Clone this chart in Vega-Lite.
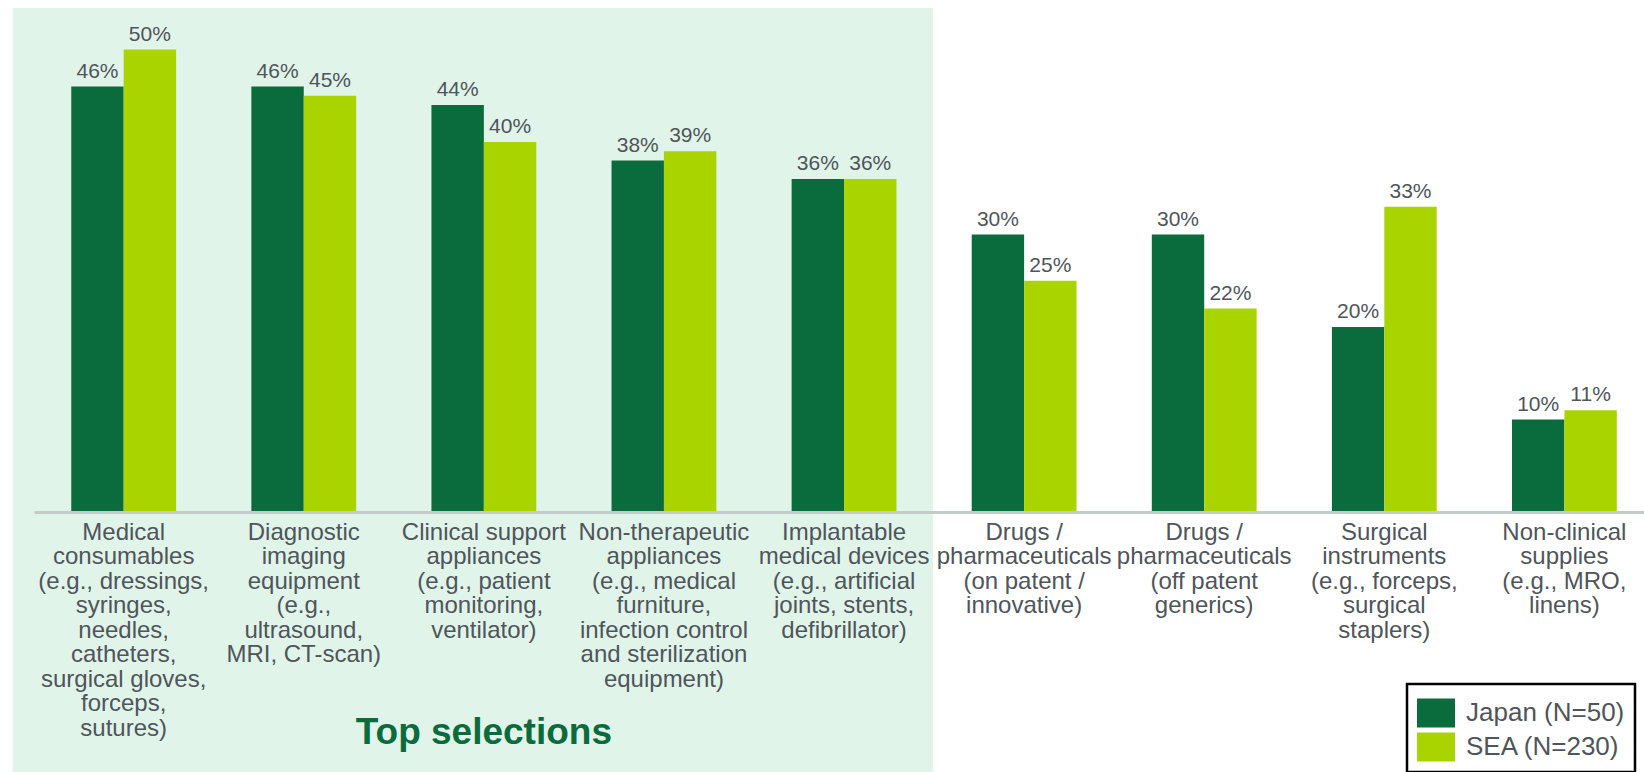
{
  "$schema": "https://vega.github.io/schema/vega-lite/v6.json",
  "width": 1610,
  "height": 504,
  "autosize": {"type": "none"},
  "padding": {"left": 34, "top": 8, "right": 0, "bottom": 260},
  "background": "white",
  "config": {
    "view": {"stroke": null},
    "font": "Liberation Sans",
    "text": {"font": "Liberation Sans"},
    "legend": {"strokeColor": "#000000", "strokeWidth": 2.5, "fillColor": "#ffffff"}
  },
  "datasets": {
    "bars": [
      {"category": "Medical|consumables|(e.g., dressings,|syringes,|needles,|catheters,|surgical gloves,|forceps,|sutures)", "series": "Japan (N=50)", "share": 0.46},
      {"category": "Medical|consumables|(e.g., dressings,|syringes,|needles,|catheters,|surgical gloves,|forceps,|sutures)", "series": "SEA (N=230)", "share": 0.50},
      {"category": "Diagnostic|imaging|equipment|(e.g.,|ultrasound,|MRI, CT-scan)", "series": "Japan (N=50)", "share": 0.46},
      {"category": "Diagnostic|imaging|equipment|(e.g.,|ultrasound,|MRI, CT-scan)", "series": "SEA (N=230)", "share": 0.45},
      {"category": "Clinical support|appliances|(e.g., patient|monitoring,|ventilator)", "series": "Japan (N=50)", "share": 0.44},
      {"category": "Clinical support|appliances|(e.g., patient|monitoring,|ventilator)", "series": "SEA (N=230)", "share": 0.40},
      {"category": "Non-therapeutic|appliances|(e.g., medical|furniture,|infection control|and sterilization|equipment)", "series": "Japan (N=50)", "share": 0.38},
      {"category": "Non-therapeutic|appliances|(e.g., medical|furniture,|infection control|and sterilization|equipment)", "series": "SEA (N=230)", "share": 0.39},
      {"category": "Implantable|medical devices|(e.g., artificial|joints, stents,|defibrillator)", "series": "Japan (N=50)", "share": 0.36},
      {"category": "Implantable|medical devices|(e.g., artificial|joints, stents,|defibrillator)", "series": "SEA (N=230)", "share": 0.36},
      {"category": "Drugs /|pharmaceuticals|(on patent /|innovative)", "series": "Japan (N=50)", "share": 0.30},
      {"category": "Drugs /|pharmaceuticals|(on patent /|innovative)", "series": "SEA (N=230)", "share": 0.25},
      {"category": "Drugs /|pharmaceuticals|(off patent|generics)", "series": "Japan (N=50)", "share": 0.30},
      {"category": "Drugs /|pharmaceuticals|(off patent|generics)", "series": "SEA (N=230)", "share": 0.22},
      {"category": "Surgical|instruments|(e.g., forceps,|surgical|staplers)", "series": "Japan (N=50)", "share": 0.20},
      {"category": "Surgical|instruments|(e.g., forceps,|surgical|staplers)", "series": "SEA (N=230)", "share": 0.33},
      {"category": "Non-clinical|supplies|(e.g., MRO,|linens)", "series": "Japan (N=50)", "share": 0.10},
      {"category": "Non-clinical|supplies|(e.g., MRO,|linens)", "series": "SEA (N=230)", "share": 0.11}
    ],
    "regions": [
      {"label": "Top selections", "from": "Medical|consumables|(e.g., dressings,|syringes,|needles,|catheters,|surgical gloves,|forceps,|sutures)", "to": "Implantable|medical devices|(e.g., artificial|joints, stents,|defibrillator)", "mid": "Clinical support|appliances|(e.g., patient|monitoring,|ventilator)"}
    ]
  },
  "layer": [
    {
      "data": {"name": "regions"},
      "mark": {"type": "rect", "color": "#e0f4e9", "clip": false},
      "encoding": {
        "x": {
          "field": "from", "type": "nominal", "bandPosition": -0.56,
          "scale": {
            "domain": [
              "Medical|consumables|(e.g., dressings,|syringes,|needles,|catheters,|surgical gloves,|forceps,|sutures)",
              "Diagnostic|imaging|equipment|(e.g.,|ultrasound,|MRI, CT-scan)",
              "Clinical support|appliances|(e.g., patient|monitoring,|ventilator)",
              "Non-therapeutic|appliances|(e.g., medical|furniture,|infection control|and sterilization|equipment)",
              "Implantable|medical devices|(e.g., artificial|joints, stents,|defibrillator)",
              "Drugs /|pharmaceuticals|(on patent /|innovative)",
              "Drugs /|pharmaceuticals|(off patent|generics)",
              "Surgical|instruments|(e.g., forceps,|surgical|staplers)",
              "Non-clinical|supplies|(e.g., MRO,|linens)"
            ],
            "paddingInner": 0.418, "paddingOuter": 0.179, "align": 0.578
          }
        },
        "x2": {"field": "to", "bandPosition": 1.348},
        "y": {"datum": 0.545, "type": "quantitative", "scale": {"domain": [0, 0.545], "nice": false, "zero": false}, "axis": null},
        "y2": {"datum": -0.3}
      }
    },
    {
      "data": {"name": "bars"},
      "layer": [
        {
          "mark": {"type": "bar"},
          "encoding": {
            "color": {
              "field": "series", "type": "nominal",
              "scale": {"domain": ["Japan (N=50)", "SEA (N=230)"], "range": ["#0a6b3c", "#a9d400"]},
              "legend": {
                "title": null,
                "orient": "none",
                "legendX": 1373,
                "legendY": 676,
                "direction": "vertical",
                "padding": 10,
                "symbolType": "M-1,-0.763H1V0.763H-1Z",
                "symbolSize": 1444,
                "symbolStrokeWidth": 0,
                "symbolOpacity": 1,
                "labelFont": "Liberation Sans",
                "labelFontSize": 26,
                "labelColor": "#4f555a",
                "labelOffset": 11,
                "rowPadding": 0,
                "labelLimit": 0
              }
            }
          }
        },
        {
          "mark": {"type": "text", "baseline": "alphabetic", "dy": -9, "fontSize": 21, "color": "#4f555a", "font": "Liberation Sans"},
          "encoding": {
            "text": {"field": "share", "type": "quantitative", "format": ".0%"}
          }
        }
      ],
      "encoding": {
        "x": {
          "field": "category", "type": "nominal", "sort": null,
          "scale": {
            "domain": [
              "Medical|consumables|(e.g., dressings,|syringes,|needles,|catheters,|surgical gloves,|forceps,|sutures)",
              "Diagnostic|imaging|equipment|(e.g.,|ultrasound,|MRI, CT-scan)",
              "Clinical support|appliances|(e.g., patient|monitoring,|ventilator)",
              "Non-therapeutic|appliances|(e.g., medical|furniture,|infection control|and sterilization|equipment)",
              "Implantable|medical devices|(e.g., artificial|joints, stents,|defibrillator)",
              "Drugs /|pharmaceuticals|(on patent /|innovative)",
              "Drugs /|pharmaceuticals|(off patent|generics)",
              "Surgical|instruments|(e.g., forceps,|surgical|staplers)",
              "Non-clinical|supplies|(e.g., MRO,|linens)"
            ],
            "paddingInner": 0.418, "paddingOuter": 0.179, "align": 0.578
          },
          "axis": {
            "title": null,
            "labelAngle": 0,
            "labelAlign": "center",
            "labelExpr": "split(datum.label, '|')",
            "labelFont": "Liberation Sans",
            "labelFontSize": 24,
            "labelLineHeight": 24.5,
            "labelColor": "#4f555a",
            "labelLimit": 0,
            "labelPadding": 8,
            "labelBaseline": "top",
            "ticks": false,
            "domainColor": "#c5cbc8",
            "domainWidth": 3,
            "zindex": 1
          }
        },
        "xOffset": {"field": "series", "type": "nominal", "sort": ["Japan (N=50)", "SEA (N=230)"], "scale": {"paddingInner": 0, "paddingOuter": 0}},
        "y": {"field": "share", "type": "quantitative", "scale": {"domain": [0, 0.545], "nice": false, "zero": false}, "axis": null}
      }
    },
    {
      "data": {"name": "regions"},
      "mark": {"type": "text", "font": "Liberation Sans", "fontWeight": "bold", "fontSize": 37, "color": "#0a6b3c", "baseline": "alphabetic", "align": "center", "clip": false},
      "encoding": {
        "x": {"field": "mid", "type": "nominal"},
        "y": {"datum": -0.2505, "type": "quantitative", "axis": null},
        "text": {"field": "label"}
      }
    }
  ],
  "resolve": {"scale": {"x": "shared", "y": "shared"}}
}
